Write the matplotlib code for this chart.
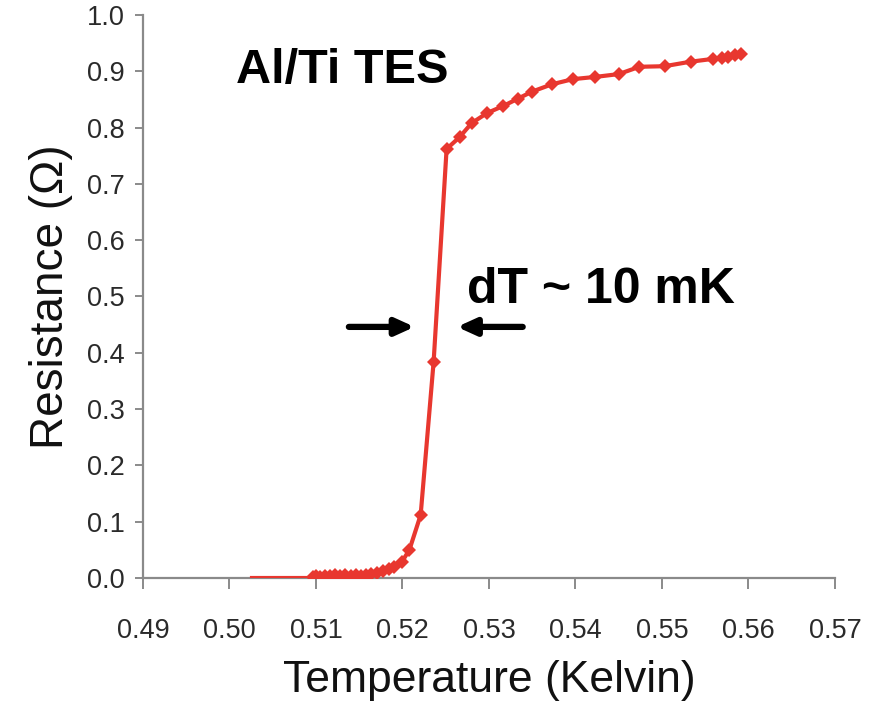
import matplotlib

matplotlib.use("Agg")
import matplotlib.pyplot as plt

# Transition curve of the Al/Ti TES
temp_k = [
    0.5026, 0.5094,
    0.5096, 0.5100, 0.5105, 0.5110, 0.5116, 0.5122, 0.5128, 0.5134,
    0.5140, 0.5146, 0.5152, 0.5158, 0.5164, 0.5170, 0.5177, 0.5184,
    0.5190, 0.5199, 0.5208, 0.5221, 0.5236, 0.5251, 0.5266, 0.5280,
    0.5298, 0.5316, 0.5333, 0.5350, 0.5373, 0.5397, 0.5423, 0.5450,
    0.5474, 0.5503, 0.5533, 0.5559, 0.5569, 0.5576, 0.5584, 0.5591,
]
resistance = [
    0.000, 0.000,
    0.002, 0.003, 0.002, 0.004, 0.003, 0.005, 0.004, 0.005,
    0.004, 0.005, 0.004, 0.006, 0.007, 0.009, 0.012, 0.016,
    0.020, 0.028, 0.050, 0.112, 0.384, 0.762, 0.783, 0.808,
    0.826, 0.838, 0.851, 0.864, 0.877, 0.886, 0.890, 0.895,
    0.908, 0.909, 0.917, 0.922, 0.924, 0.925, 0.929, 0.931,
]
n_plain = 2  # first two points drawn as bare line, no markers

x_ticks = [0.49, 0.50, 0.51, 0.52, 0.53, 0.54, 0.55, 0.56, 0.57]
y_ticks = [0.0, 0.1, 0.2, 0.3, 0.4, 0.5, 0.6, 0.7, 0.8, 0.9, 1.0]

RED, AXIS_GRAY, TXT = "#E8372F", "#8A8A8A", "#2A2A2A"

plt.rcParams.update({"font.family": ["Liberation Sans", "DejaVu Sans"]})

fig = plt.figure(figsize=(8.86, 7.03), dpi=100)
ax = fig.add_axes([0.1614, 0.1778, 0.9424 - 0.1614, 0.9787 - 0.1778])

ax.plot(temp_k[: n_plain + 1], resistance[: n_plain + 1], color=RED, lw=3.0, zorder=3)
ax.plot(
    temp_k[n_plain:],
    resistance[n_plain:],
    color=RED,
    lw=3.0,
    marker="D",
    markersize=7,
    markeredgewidth=0,
    zorder=3,
)

ax.set_xlim(0.49, 0.57)
ax.set_ylim(0.0, 1.0)
ax.set_xticks(x_ticks)
ax.set_xticklabels([f"{v:.2f}" for v in x_ticks])
ax.set_yticks(y_ticks)
ax.set_yticklabels([f"{v:.1f}" for v in y_ticks])

for side in ("top", "right"):
    ax.spines[side].set_visible(False)
for side in ("left", "bottom"):
    ax.spines[side].set_color(AXIS_GRAY)
    ax.spines[side].set_linewidth(1.6)
ax.spines["bottom"].set_zorder(2)

ax.tick_params(axis="x", direction="out", length=8, width=1.4, color=AXIS_GRAY,
               labelsize=19.5, labelcolor=TXT, pad=21)
ax.tick_params(axis="y", direction="out", length=6, width=1.4, color=AXIS_GRAY,
               labelsize=19.5, labelcolor=TXT, pad=7)

ax.set_xlabel("Temperature (Kelvin)", fontsize=32, color="#111", labelpad=11)
ax.set_ylabel("Resistance (Ω)", fontsize=33, color="#111", labelpad=10)

ax.text(0.5007, 0.902, "Al/Ti TES", fontsize=35, fontweight="bold", color="black",
        ha="left", va="center")
ax.text(0.5275, 0.512, "dT ~ 10 mK", fontsize=36, fontweight="bold", color="black",
        ha="left", va="center")

arrow = dict(arrowstyle="-|>,head_length=1.1,head_width=0.5", color="black", lw=4.5,
             shrinkA=0, shrinkB=0)
ax.annotate("", xy=(0.5214, 0.446), xytext=(0.5138, 0.446), arrowprops=arrow)
ax.annotate("", xy=(0.5263, 0.446), xytext=(0.5339, 0.446), arrowprops=arrow)

fig.savefig("out.png", dpi=100)
plt.close(fig)
